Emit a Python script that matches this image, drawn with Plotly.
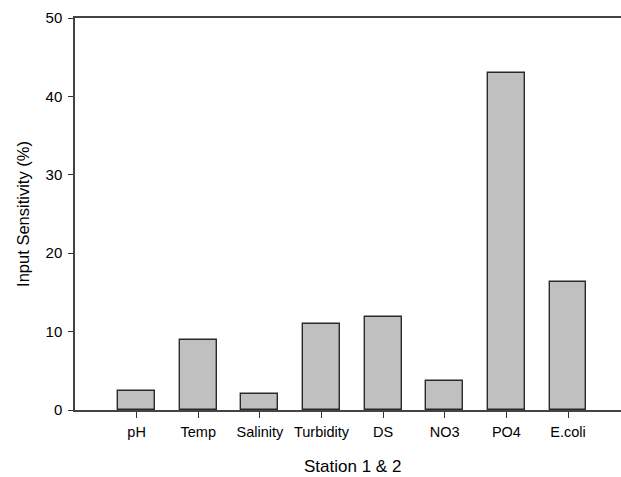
import plotly.graph_objects as go

categories = ["pH", "Temp", "Salinity", "Turbidity", "DS", "NO3", "PO4", "E.coli"]
values = [2.4, 8.9, 2.1, 11.0, 11.9, 3.75, 43.0, 16.3]
y_ticks = [0, 10, 20, 30, 40, 50]
x_title = "Station 1 & 2"
y_title = "Input Sensitivity (%)"

fig = go.Figure()
fig.add_trace(go.Bar(
    x=list(range(len(categories))), y=values,
    width=0.6,
    marker=dict(color="#c0c0c0", line=dict(color="#2a2a2a", width=1.4)),
))

font_family = "Liberation Sans, Arial, sans-serif"
fig.update_layout(
    width=621, height=477,
    margin=dict(l=75, r=0, t=18, b=67, autoexpand=False),
    paper_bgcolor="white", plot_bgcolor="white",
    showlegend=False,
    font=dict(family=font_family, size=15, color="black"),
    bargap=0,
)
fig.update_xaxes(
    range=[-1, 7.86],
    tickmode="array",
    tickvals=list(range(len(categories))),
    ticktext=categories,
    ticks="outside", ticklen=6, tickwidth=1.2, tickcolor="#333",
    showline=True, linecolor="#444", linewidth=1.5, mirror=True,
    showgrid=False, zeroline=False,
    tickfont=dict(size=14.5),
    ticklabelstandoff=2,
)
fig.update_yaxes(
    range=[0, 50],
    tickmode="array", tickvals=y_ticks,
    ticks="outside", ticklen=5, tickwidth=1.2, tickcolor="#333",
    showline=True, linecolor="#444", linewidth=1.5, mirror=False,
    showgrid=False, zeroline=False,
    tickfont=dict(size=15),
    ticklabelstandoff=3,
    title=dict(text=y_title, font=dict(size=16.5), standoff=12),
)
fig.add_annotation(
    x=3.5, y=-0.145, xref="x", yref="paper",
    text=x_title, showarrow=False,
    font=dict(size=17, family=font_family),
    xanchor="center", yanchor="middle",
)
fig.write_html(
    "out.html",
    config={"displayModeBar": False},
    post_script="document.body.style.margin='0';document.body.style.padding='0';",
)
